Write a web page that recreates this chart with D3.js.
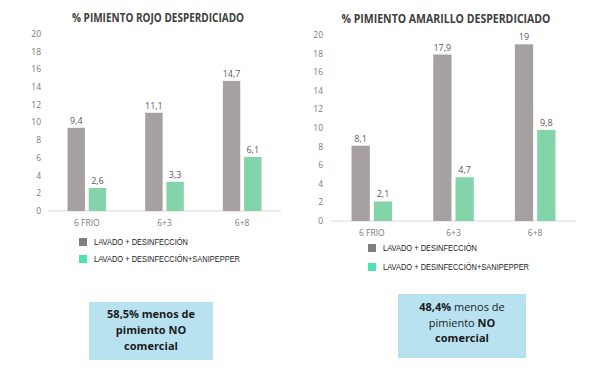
<!DOCTYPE html>
<html>
<head>
<meta charset="utf-8" />
<title>pimiento desperdiciado</title>
<script src="https://cdn.jsdelivr.net/npm/d3@7"></script>
<style>
html, body {
	margin:0;
	padding:0;
	background:#ffffff;
}
svg {
	font-family: 'Open Sans', 'Noto Sans', sans-serif;
	display:block;
}
</style>
</head>
<body>
<script>

//=======================================
// data
//=======================================

let categories = ['6 FRIO', '6+3', '6+8'];
let yTicks = [0, 2, 4, 6, 8, 10, 12, 14, 16, 18, 20];

let rojoLavado     = [9.4, 11.1, 14.7];
let rojoSanipepper = [2.6, 3.3, 6.1];

let amarilloLavado     = [8.1, 17.9, 19];
let amarilloSanipepper = [2.1, 4.7, 9.8];

let seriesNames = ['LAVADO + DESINFECCIÓN', 'LAVADO + DESINFECCIÓN+SANIPEPPER'];


let barColors    = ['#a6a1a0', '#83d5a9'],
		legendColors = ['#7f7f7f', '#4fe3b1'];

let fmt = v => String(v).replace('.', ',');


let svg = d3.select('body').append('svg')
	.attr('width', 600)
	.attr('height', 370);


svg.append('g').call(chart, {
	title: '% PIMIENTO ROJO DESPERDICIADO',
	titleX: 158, titleY: 22, titleW: 172,
	xRange: [48, 281],
	yRange: [211, 34],
	tickX: 41,
	labelY: 226,
	series: [rojoLavado, rojoSanipepper],
	legendX: 79, legendY: [242, 259],
	box: {x:89, y:302, w:124, h:58},
	lines: [
		[['58,5% menos de', true]],
		[['pimiento NO', true]],
		[['comercial', true]],
	],
	lineY: [318, 334, 350]
});

svg.append('g').call(chart, {
	title: '% PIMIENTO AMARILLO DESPERDICIADO',
	titleX: 446, titleY: 23, titleW: 209,
	xRange: [331, 576],
	yRange: [221, 35],
	tickX: 323,
	labelY: 236,
	series: [amarilloLavado, amarilloSanipepper],
	legendX: 368, legendY: [248, 267],
	box: {x:398, y:294, w:128, h:64},
	lines: [
		[['48,4%', true], [' menos de', false]],
		[['pimiento ', false], ['NO', true]],
		[['comercial', true]],
	],
	lineY: [311, 327, 342]
});


//====================================================================================
// chart
//====================================================================================

function chart(sel, o)	{

	let x0 = d3.scaleBand().domain(categories).range(o.xRange),
			x1 = d3.scaleBand().domain([0, 1]).range([0, x0.bandwidth()])
						.paddingInner(0.18).paddingOuter(0.92),
			y  = d3.scaleLinear().domain([0, 20]).range(o.yRange);

	// title
	sel.append('text')
		.attr('x', o.titleX)
		.attr('y', o.titleY)
		.attr('text-anchor', 'middle')
		.attr('font-size', 11.5)
		.attr('font-weight', 'bold')
		.attr('fill', '#404040')
		.attr('textLength', o.titleW)
		.attr('lengthAdjust', 'spacingAndGlyphs')
		.text(o.title);

	// y tick labels
	sel.append('g')
		.selectAll('text').data(yTicks)
		.enter().append('text')
			.attr('x', o.tickX)
			.attr('y', d => y(d))
			.attr('dy', '0.35em')
			.attr('text-anchor', 'end')
			.attr('font-size', 8.5)
			.attr('fill', '#7a7a7a')
			.text(d => d);

	// baseline
	sel.append('line')
		.attr('x1', o.xRange[0]).attr('x2', o.xRange[1])
		.attr('y1', y(0)).attr('y2', y(0))
		.attr('stroke', '#d9d9d9')
		.attr('stroke-width', 1);

	// bars
	let groups = sel.append('g')
		.selectAll('g').data(categories)
		.enter().append('g')
			.attr('transform', d => 'translate(' + [x0(d), 0] + ')');

	groups.selectAll('rect')
		.data((d, i) => o.series.map((s, k) => ({k: k, v: s[i]})))
		.enter().append('rect')
			.attr('x', d => x1(d.k))
			.attr('y', d => y(d.v))
			.attr('width', x1.bandwidth())
			.attr('height', d => y(0) - y(d.v))
			.attr('fill', d => barColors[d.k]);

	groups.selectAll('text.val')
		.data((d, i) => o.series.map((s, k) => ({k: k, v: s[i]})))
		.enter().append('text')
			.attr('class', 'val')
			.attr('x', d => x1(d.k) + x1.bandwidth() / 2)
			.attr('y', d => y(d.v) - 4)
			.attr('text-anchor', 'middle')
			.attr('font-size', 9)
			.attr('fill', '#595959')
			.text(d => fmt(d.v));

	// category labels
	sel.append('g')
		.selectAll('text').data(categories)
		.enter().append('text')
			.attr('x', d => x0(d) + x0.bandwidth() / 2)
			.attr('y', o.labelY)
			.attr('text-anchor', 'middle')
			.attr('font-size', 8.5)
			.attr('fill', '#7a7a7a')
			.text(d => d);

	// legend
	let legend = sel.append('g')
		.selectAll('g').data(seriesNames)
		.enter().append('g')
			.attr('transform', (d, i) => 'translate(' + [o.legendX, o.legendY[i]] + ')');

	legend.append('rect')
		.attr('x', 0).attr('y', -4)
		.attr('width', 8).attr('height', 8)
		.attr('fill', (d, i) => legendColors[i]);

	legend.append('text')
		.attr('x', 15)
		.attr('dy', '0.35em')
		.attr('font-family', "'Liberation Sans Narrow', 'Liberation Sans', sans-serif")
		.attr('font-size', 8.5)
		.attr('fill', '#1a1a1a')
		.attr('textLength', (d, i) => i ? 146 : 94)
		.attr('lengthAdjust', 'spacingAndGlyphs')
		.text(d => d);

	// note box
	sel.append('rect')
		.attr('x', o.box.x).attr('y', o.box.y)
		.attr('width', o.box.w).attr('height', o.box.h)
		.attr('fill', '#b9e2f1');

	sel.append('g')
		.selectAll('text').data(o.lines)
		.enter().append('text')
			.attr('x', o.box.x + o.box.w / 2)
			.attr('y', (d, i) => o.lineY[i])
			.attr('text-anchor', 'middle')
			.attr('font-size', 11)
			.attr('fill', '#1a1a1a')
			.selectAll('tspan').data(d => d)
			.enter().append('tspan')
				.attr('font-weight', d => d[1] ? 'bold' : 'normal')
				.text(d => d[0]);

}

</script>
</body>
</html>
